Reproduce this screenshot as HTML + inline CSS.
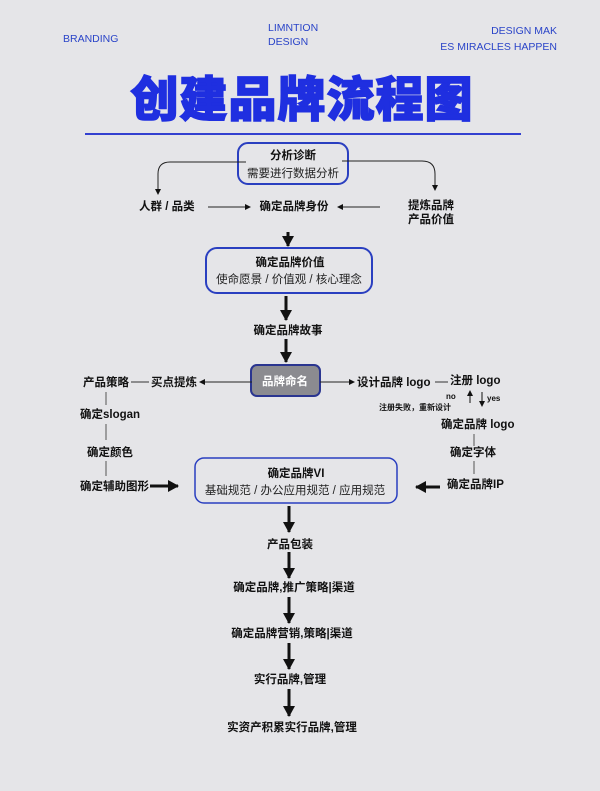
<!DOCTYPE html>
<html><head><meta charset="utf-8"><style>
html,body{margin:0;padding:0;background:#e5e5e8;}
svg{display:block;}
text{font-family:"Liberation Sans","Noto Sans CJK SC",sans-serif;}
.b{font-weight:bold;fill:#111;font-size:11.5px;}
.n{fill:#222;font-size:11.5px;}
.h{fill:#2a44c8;font-size:10.5px;}
</style></head><body>
<svg width="600" height="791" viewBox="0 0 600 791" xmlns="http://www.w3.org/2000/svg">
<defs>
<marker id="a" markerWidth="6" markerHeight="6" refX="5" refY="3" orient="auto" markerUnits="userSpaceOnUse"><path d="M0,0 L6,3 L0,6z" fill="#111"/></marker>
<marker id="A" markerWidth="12" markerHeight="12" refX="10" refY="6" orient="auto" markerUnits="userSpaceOnUse"><path d="M0,0 L11,6 L0,12z" fill="#111"/></marker>
</defs>
<rect width="600" height="791" fill="#e5e5e8"/>
<text x="63" y="42" class="h">BRANDING</text>
<text x="268" y="31" class="h">LIMNTION</text>
<text x="268" y="45" class="h">DESIGN</text>
<text x="557" y="34" class="h" text-anchor="end">DESIGN MAK</text>
<text x="557" y="50" class="h" text-anchor="end">ES MIRACLES HAPPEN</text>
<text x="302" y="116" text-anchor="middle" style="font-size:48px;font-weight:900;fill:#1f2fe0;letter-spacing:1px;stroke:#1f2fe0;stroke-width:1.5">创建品牌流程图</text>
<line x1="85" y1="134" x2="521" y2="134" stroke="#3340d0" stroke-width="2"/>

<rect x="238" y="143" width="110" height="41" rx="10" fill="none" stroke="#2a3fc0" stroke-width="2"/>
<text x="293" y="159" text-anchor="middle" class="b">分析诊断</text>
<text x="293" y="177" text-anchor="middle" class="n">需要进行数据分析</text>
<path d="M246,162 H170 Q158,162 158,174 V194" fill="none" stroke="#222" stroke-width="1" marker-end="url(#a)"/>
<path d="M342,161 H422 Q435,161 435,174 V190" fill="none" stroke="#222" stroke-width="1" marker-end="url(#a)"/>

<text x="139" y="210" class="b">人群 / 品类</text>
<line x1="208" y1="207" x2="250" y2="207" stroke="#222" marker-end="url(#a)"/>
<text x="294" y="210" text-anchor="middle" class="b">确定品牌身份</text>
<line x1="380" y1="207" x2="338" y2="207" stroke="#222" marker-end="url(#a)"/>
<text x="408" y="209" class="b">提炼品牌</text>
<text x="408" y="223" class="b">产品价值</text>

<line x1="288" y1="232" x2="288" y2="246" stroke="#111" stroke-width="3" marker-end="url(#A)"/>
<rect x="206" y="248" width="166" height="45" rx="11" fill="none" stroke="#2a3fc0" stroke-width="2"/>
<text x="290" y="266" text-anchor="middle" class="b">确定品牌价值</text>
<text x="289" y="283" text-anchor="middle" class="n">使命愿景 / 价值观 / 核心理念</text>
<line x1="286" y1="296" x2="286" y2="320" stroke="#111" stroke-width="3" marker-end="url(#A)"/>
<text x="288" y="334" text-anchor="middle" class="b">确定品牌故事</text>
<line x1="286" y1="339" x2="286" y2="362" stroke="#111" stroke-width="3" marker-end="url(#A)"/>

<rect x="251" y="365" width="69" height="31" rx="6" fill="#8b8b90" stroke="#2a3590" stroke-width="2"/>
<text x="285" y="385" text-anchor="middle" style="font-size:11.5px;font-weight:bold;fill:#fff">品牌命名</text>
<line x1="252" y1="382" x2="200" y2="382" stroke="#222" marker-end="url(#a)"/>
<text x="151" y="386" class="b">买点提炼</text>
<line x1="131" y1="382" x2="149" y2="382" stroke="#333"/>
<text x="83" y="386" class="b">产品策略</text>
<line x1="106" y1="392" x2="106" y2="405" stroke="#555"/>
<text x="80" y="418" class="b">确定slogan</text>
<line x1="106" y1="424" x2="106" y2="440" stroke="#555"/>
<text x="87" y="456" class="b">确定颜色</text>
<line x1="106" y1="461" x2="106" y2="476" stroke="#555"/>
<text x="80" y="490" class="b">确定辅助图形</text>
<line x1="150" y1="486" x2="178" y2="486" stroke="#111" stroke-width="3" marker-end="url(#A)"/>

<line x1="320" y1="382" x2="354" y2="382" stroke="#222" marker-end="url(#a)"/>
<text x="357" y="386" class="b">设计品牌 logo</text>
<line x1="435" y1="382" x2="448" y2="382" stroke="#333"/>
<text x="450" y="384" class="b">注册 logo</text>
<text x="446" y="399" style="font-size:8px;font-weight:bold;fill:#111">no</text>
<line x1="470" y1="403" x2="470" y2="391" stroke="#111" marker-end="url(#a)"/>
<line x1="482" y1="392" x2="482" y2="406" stroke="#111" marker-end="url(#a)"/>
<text x="487" y="401" style="font-size:8px;font-weight:bold;fill:#111">yes</text>
<text x="379" y="410" style="font-size:8px;font-weight:bold;fill:#111">注册失败，重新设计</text>
<text x="441" y="428" class="b">确定品牌 logo</text>
<line x1="474" y1="434" x2="474" y2="446" stroke="#555"/>
<text x="450" y="456" class="b">确定字体</text>
<line x1="474" y1="461" x2="474" y2="474" stroke="#555"/>
<text x="447" y="488" class="b">确定品牌IP</text>
<line x1="440" y1="487" x2="416" y2="487" stroke="#111" stroke-width="3" marker-end="url(#A)"/>

<rect x="195" y="458" width="202" height="45" rx="9" fill="none" stroke="#2a3fc0" stroke-width="1.5"/>
<text x="296" y="477" text-anchor="middle" class="b">确定品牌VI</text>
<text x="295" y="494" text-anchor="middle" class="n">基础规范 / 办公应用规范 / 应用规范</text>

<g stroke="#111" stroke-width="3">
<line x1="289" y1="506" x2="289" y2="532" marker-end="url(#A)"/>
<line x1="289" y1="552" x2="289" y2="578" marker-end="url(#A)"/>
<line x1="289" y1="597" x2="289" y2="623" marker-end="url(#A)"/>
<line x1="289" y1="643" x2="289" y2="669" marker-end="url(#A)"/>
<line x1="289" y1="689" x2="289" y2="716" marker-end="url(#A)"/>
</g>
<text x="290" y="548" text-anchor="middle" class="b">产品包装</text>
<text x="294" y="591" text-anchor="middle" class="b">确定品牌,推广策略|渠道</text>
<text x="292" y="637" text-anchor="middle" class="b">确定品牌营销,策略|渠道</text>
<text x="290" y="683" text-anchor="middle" class="b">实行品牌,管理</text>
<text x="292" y="731" text-anchor="middle" class="b">实资产积累实行品牌,管理</text>
</svg>
</body></html>
